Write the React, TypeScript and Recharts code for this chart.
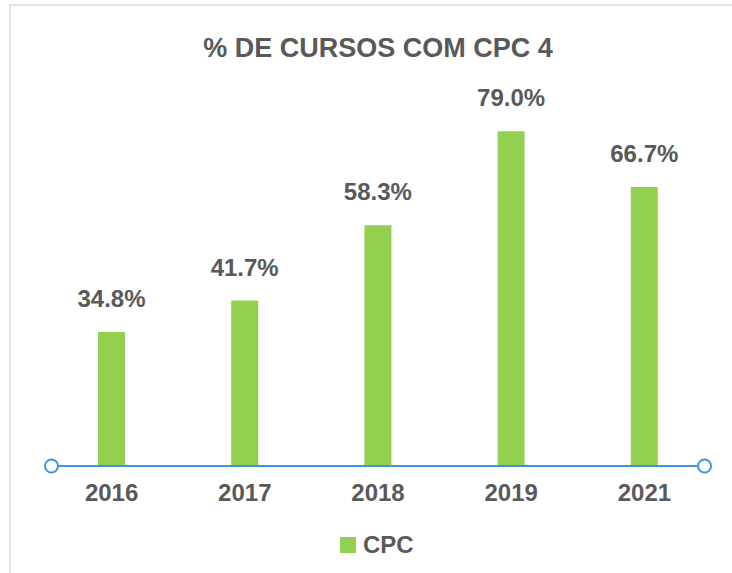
import { BarChart, Bar, XAxis, YAxis, LabelList, usePlotArea } from 'recharts';

const years = ['2016', '2017', '2018', '2019', '2021'];
const cpcValues = [34.8, 41.7, 58.3, 79.0, 66.7];
const seriesName = 'CPC';
const chartTitle = '% DE CURSOS COM CPC 4';

const data = years.map((year, i) => ({ year, value: cpcValues[i] }));

const FONT = '"Liberation Sans", Arial, Helvetica, sans-serif';
const TEXT = '#595959';
const GREEN = '#92D050';
const BLUE = '#3E95DD';

function Decorations() {
  const plot = usePlotArea();
  if (!plot) return null;
  const cx = plot.x + plot.width / 2;
  const axisY = plot.y + plot.height + 1;
  const r = 6.5;
  return (
    <g>
      <text x={cx} y={57} textAnchor="middle" fill={TEXT} fontSize={27} fontWeight="bold" fontFamily={FONT}>
        {chartTitle}
      </text>
      <line x1={plot.x + r} x2={plot.x + plot.width - r} y1={axisY} y2={axisY} stroke={BLUE} strokeWidth={2} />
      <circle cx={plot.x + r} cy={axisY} r={r} fill="#fff" stroke={BLUE} strokeWidth={2} />
      <circle cx={plot.x + plot.width - r} cy={axisY} r={r} fill="#fff" stroke={BLUE} strokeWidth={2} />
      <rect x={cx - 38} y={537} width={16} height={16} fill={GREEN} />
      <text x={cx - 15} y={553} fill={TEXT} fontSize={24} fontWeight="bold" fontFamily={FONT}>
        {seriesName}
      </text>
    </g>
  );
}

export default function App() {
  return (
    <div style={{ position: 'absolute', left: 0, top: 0, width: 732, height: 573, background: '#fff', overflow: 'hidden' }}>
      <div
        style={{
          position: 'absolute',
          left: 9,
          top: 4,
          width: 730,
          height: 575,
          borderTop: '2px solid #E3E3E3',
          borderLeft: '2px solid #E3E3E3',
        }}
      />
      <div style={{ position: 'absolute', left: 0, top: 0 }}>
        <BarChart width={732} height={573} data={data} margin={{ top: 104, right: 21, left: 45, bottom: 68 }}>
          <XAxis
            dataKey="year"
            axisLine={false}
            tickLine={false}
            tickSize={0}
            tickMargin={19}
            height={40}
            tick={{ fill: TEXT, fontSize: 24, fontWeight: 'bold', fontFamily: FONT }}
          />
          <YAxis hide domain={[5.5, 85]} />
          <Bar dataKey="value" name={seriesName} fill={GREEN} barSize={27} isAnimationActive={false}>
            <LabelList
              dataKey="value"
              position="top"
              offset={25}
              formatter={(v: number) => `${Number(v).toFixed(1)}%`}
              fill={TEXT}
              fontSize={24}
              fontWeight="bold"
              fontFamily={FONT}
            />
          </Bar>
          <Decorations />
        </BarChart>
      </div>
    </div>
  );
}
